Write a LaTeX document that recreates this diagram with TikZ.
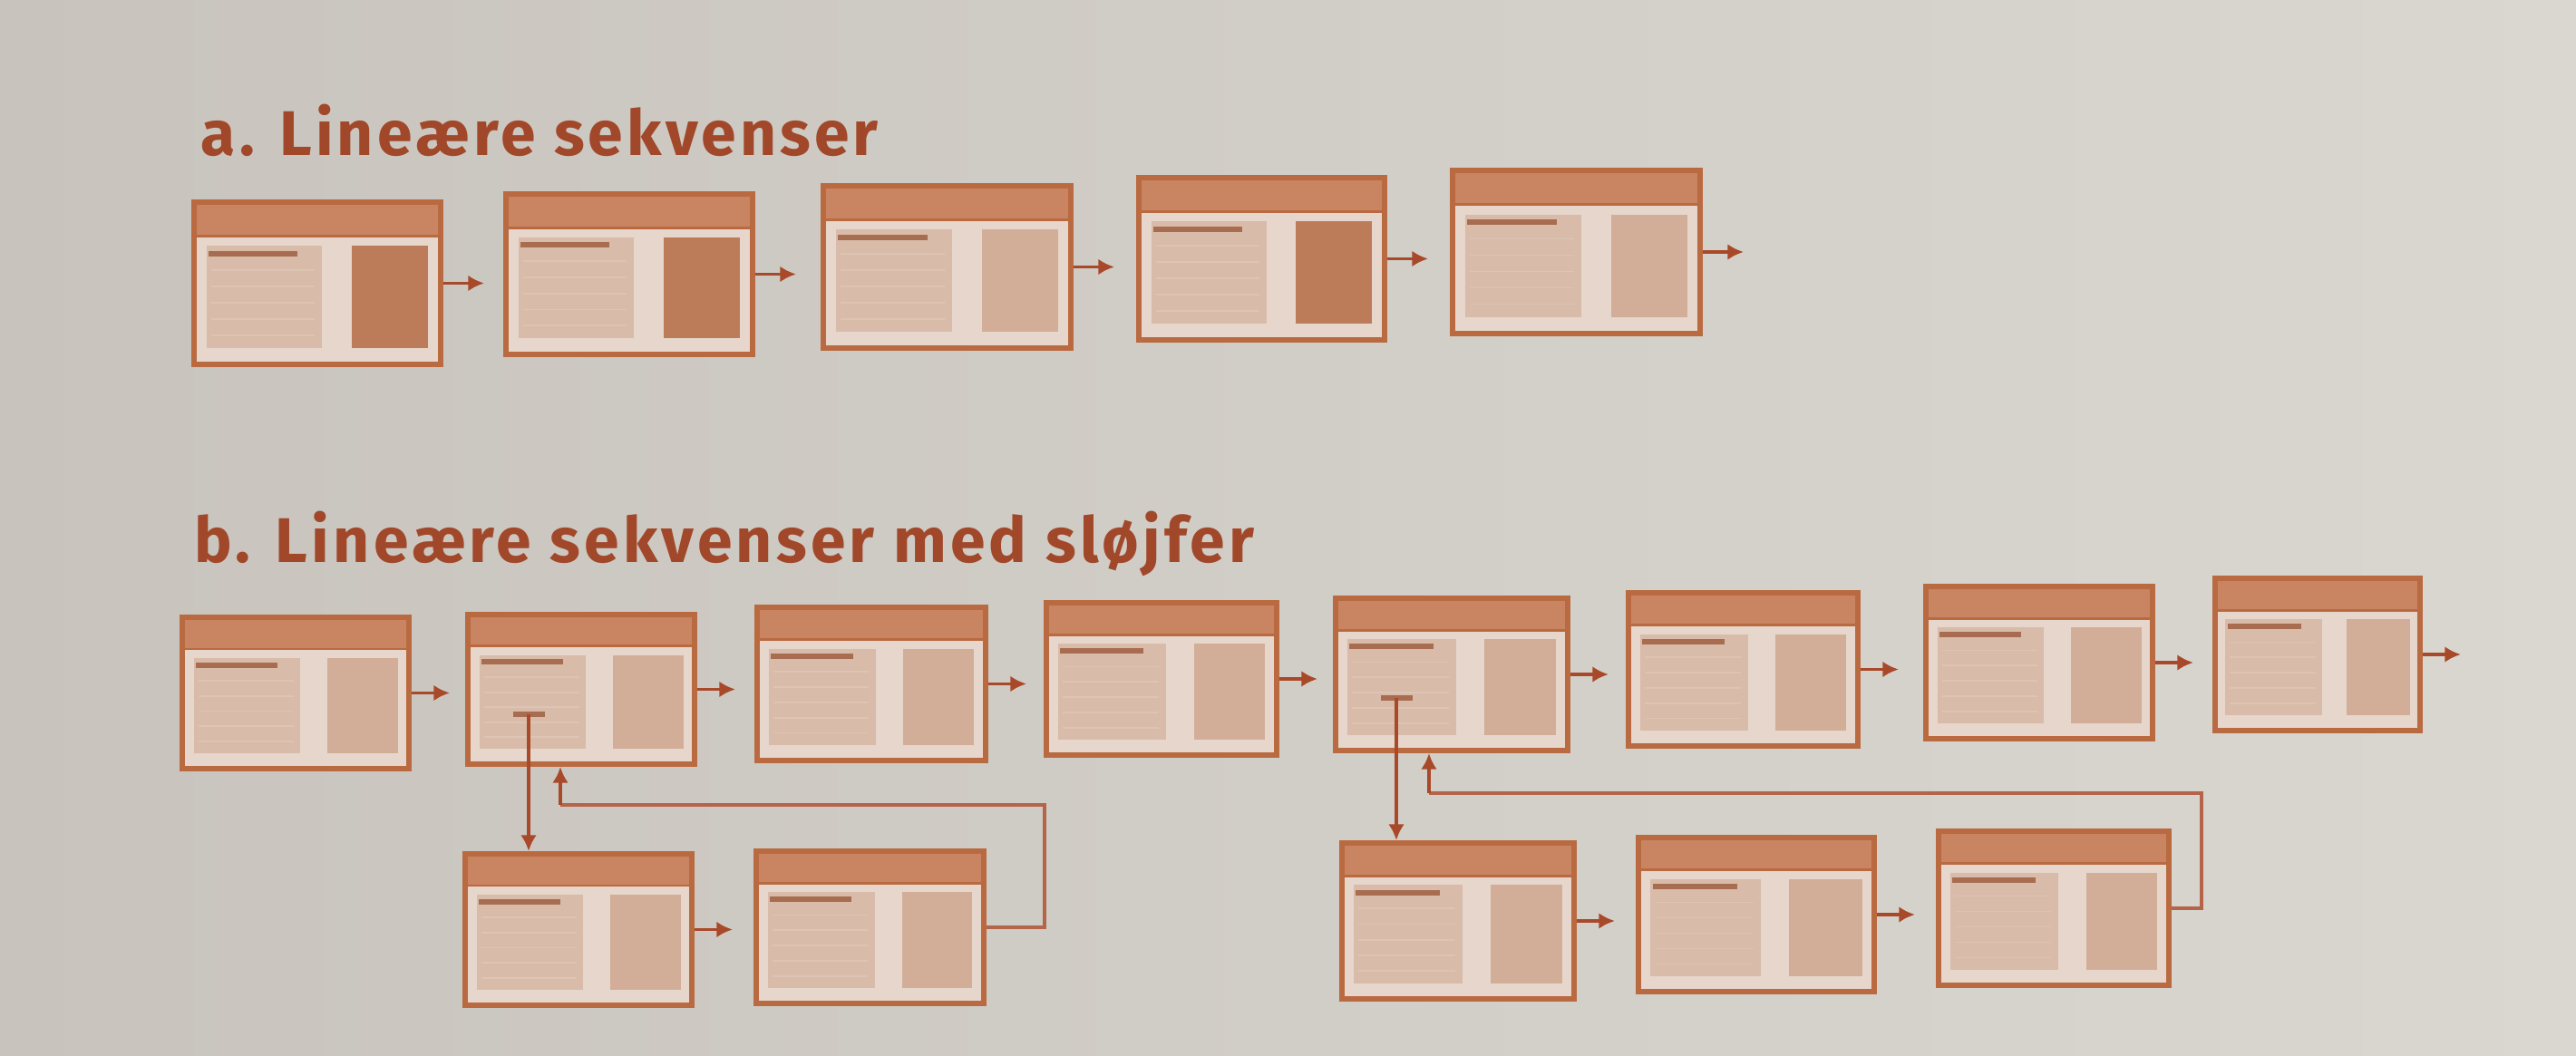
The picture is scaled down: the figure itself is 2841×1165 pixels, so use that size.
\documentclass[tikz,border=0pt]{standalone}
\usepackage{fontspec}
\newfontfamily\tf{Fira Sans}[LetterSpace=6]
\usetikzlibrary{arrows.meta,fit,calc}
\definecolor{bgl}{HTML}{C8C4BD}
\definecolor{bgr}{HTML}{DAD7D1}
\definecolor{framec}{HTML}{BA6A40}
\definecolor{headc}{HTML}{C98461}
\definecolor{bodyc}{HTML}{E6D6CB}
\definecolor{leftc}{HTML}{D8BBA8}
\definecolor{linec}{HTML}{DDC4B4}
\definecolor{titlec}{HTML}{A86D50}
\definecolor{darkr}{HTML}{BC7C5A}
\definecolor{lightr}{HTML}{D2AE98}
\definecolor{arrc}{HTML}{A8492A}
\definecolor{textc}{HTML}{A2482A}
\tikzset{
  x=0.01cm, y=-0.01cm,
  arr/.style={draw=arrc, line width=1.1pt, -{Latex[length=5pt,width=5pt]}},
  loopline/.style={draw=arrc!85!white, line width=1.1pt},
  heading/.style={anchor=base west, inner sep=0, text=textc, font=\tf\bfseries\fontsize{19.8}{23}\selectfont}
}
\newcommand\pbox[6]{%
  \coordinate (#1-tl) at (#2,#3);
  \coordinate (#1-br) at (#4,#5);
  \begin{scope}[shift={(#2,#3)}]
    \pgfmathsetmacro\bw{#4-#2}
    \pgfmathsetmacro\bh{#5-#3}
    \fill[bodyc] (0,0) rectangle (\bw,\bh);
    \fill[headc] (0,0) rectangle (\bw,0.21*\bh);
    \fill[leftc] (0.05*\bw,0.27*\bh) rectangle (0.52*\bw,0.90*\bh);
    \foreach \yy in {0.42,0.52,0.62,0.72,0.82}
      \draw[linec, line width=0.5pt] (0.07*\bw,\yy*\bh) -- (0.49*\bw,\yy*\bh);
    \fill[#6] (0.64*\bw,0.27*\bh) rectangle (0.95*\bw,0.90*\bh);
    \fill[titlec] (0.06*\bw,0.30*\bh) rectangle (0.42*\bw,0.335*\bh);
    \draw[framec, line width=0.8pt] (0,0.21*\bh) -- (\bw,0.21*\bh);
  \end{scope}
  \node[fit=(#1-tl)(#1-br), inner sep=0, draw=framec, line width=1.7pt] (#1) {};
}
\begin{document}
\begin{tikzpicture}
\useasboundingbox (0,0) rectangle (2841,1165);
\shade[left color=bgl, right color=bgr] (0,0) rectangle (2841,1165);

\node[heading] (ta) at (221,172) {a. Lineære sekvenser};
\node[heading] (tb) at (214,621) {b. Lineære sekvenser med sløjfer};

% row a
\pbox{a1}{214}{223}{486}{402}{darkr}
\pbox{a2}{558}{214}{830}{391}{darkr}
\pbox{a3}{908}{205}{1181}{384}{lightr}
\pbox{a4}{1256}{196}{1527}{375}{darkr}
\pbox{a5}{1602}{188}{1875}{368}{lightr}
\foreach \n in {a1,a2,a3,a4,a5}
  \draw[arr] (\n.east) -- ++(45,0);

% row b, top
\pbox{b1}{201}{681}{451}{848}{lightr}
\pbox{b2}{516}{678}{766}{843}{lightr}
\pbox{b3}{835}{670}{1087}{839}{lightr}
\pbox{b4}{1154}{665}{1408}{833}{lightr}
\pbox{b5}{1473}{660}{1729}{828}{lightr}
\pbox{b6}{1796}{654}{2049}{823}{lightr}
\pbox{b7}{2124}{647}{2374}{815}{lightr}
\pbox{b8}{2443}{638}{2669}{806}{lightr}
\foreach \n in {b1,b2,b3,b4,b5,b6,b7,b8}
  \draw[arr] (\n.east) -- ++(42,0);

% row b, bottom
\pbox{c1}{513}{942}{763}{1109}{lightr}
\pbox{c2}{834}{939}{1085}{1107}{lightr}
\pbox{c3}{1480}{930}{1736}{1102}{lightr}
\pbox{c4}{1807}{924}{2067}{1094}{lightr}
\pbox{c5}{2138}{917}{2392}{1087}{lightr}
\draw[arr] (c1.east) -- ++(42,0);
\draw[arr] (c3.east) -- ++(42,0);
\draw[arr] (c4.east) -- ++(42,0);

% loop 1
\coordinate (m1) at (583,788);
\fill[titlec] ($(m1)+(-17,-3)$) rectangle ($(m1)+(18,3)$);
\draw[arr] (m1) -- (m1 |- c1.north);
\coordinate (r1) at (1152,888);
\coordinate (e1) at (618,843);
\draw[loopline] (c2.east) -| (r1) -- (r1 -| e1);
\draw[arr] (r1 -| e1) -- (e1 |- b2.south);

% loop 2
\coordinate (m2) at (1540,770);
\fill[titlec] ($(m2)+(-17,-3)$) rectangle ($(m2)+(18,3)$);
\draw[arr] (m2) -- (m2 |- c3.north);
\coordinate (r2) at (2428,875);
\coordinate (e2) at (1576,828);
\draw[loopline] (c5.east) -| (r2) -- (r2 -| e2);
\draw[arr] (r2 -| e2) -- (e2 |- b5.south);
\end{tikzpicture}
\end{document}
